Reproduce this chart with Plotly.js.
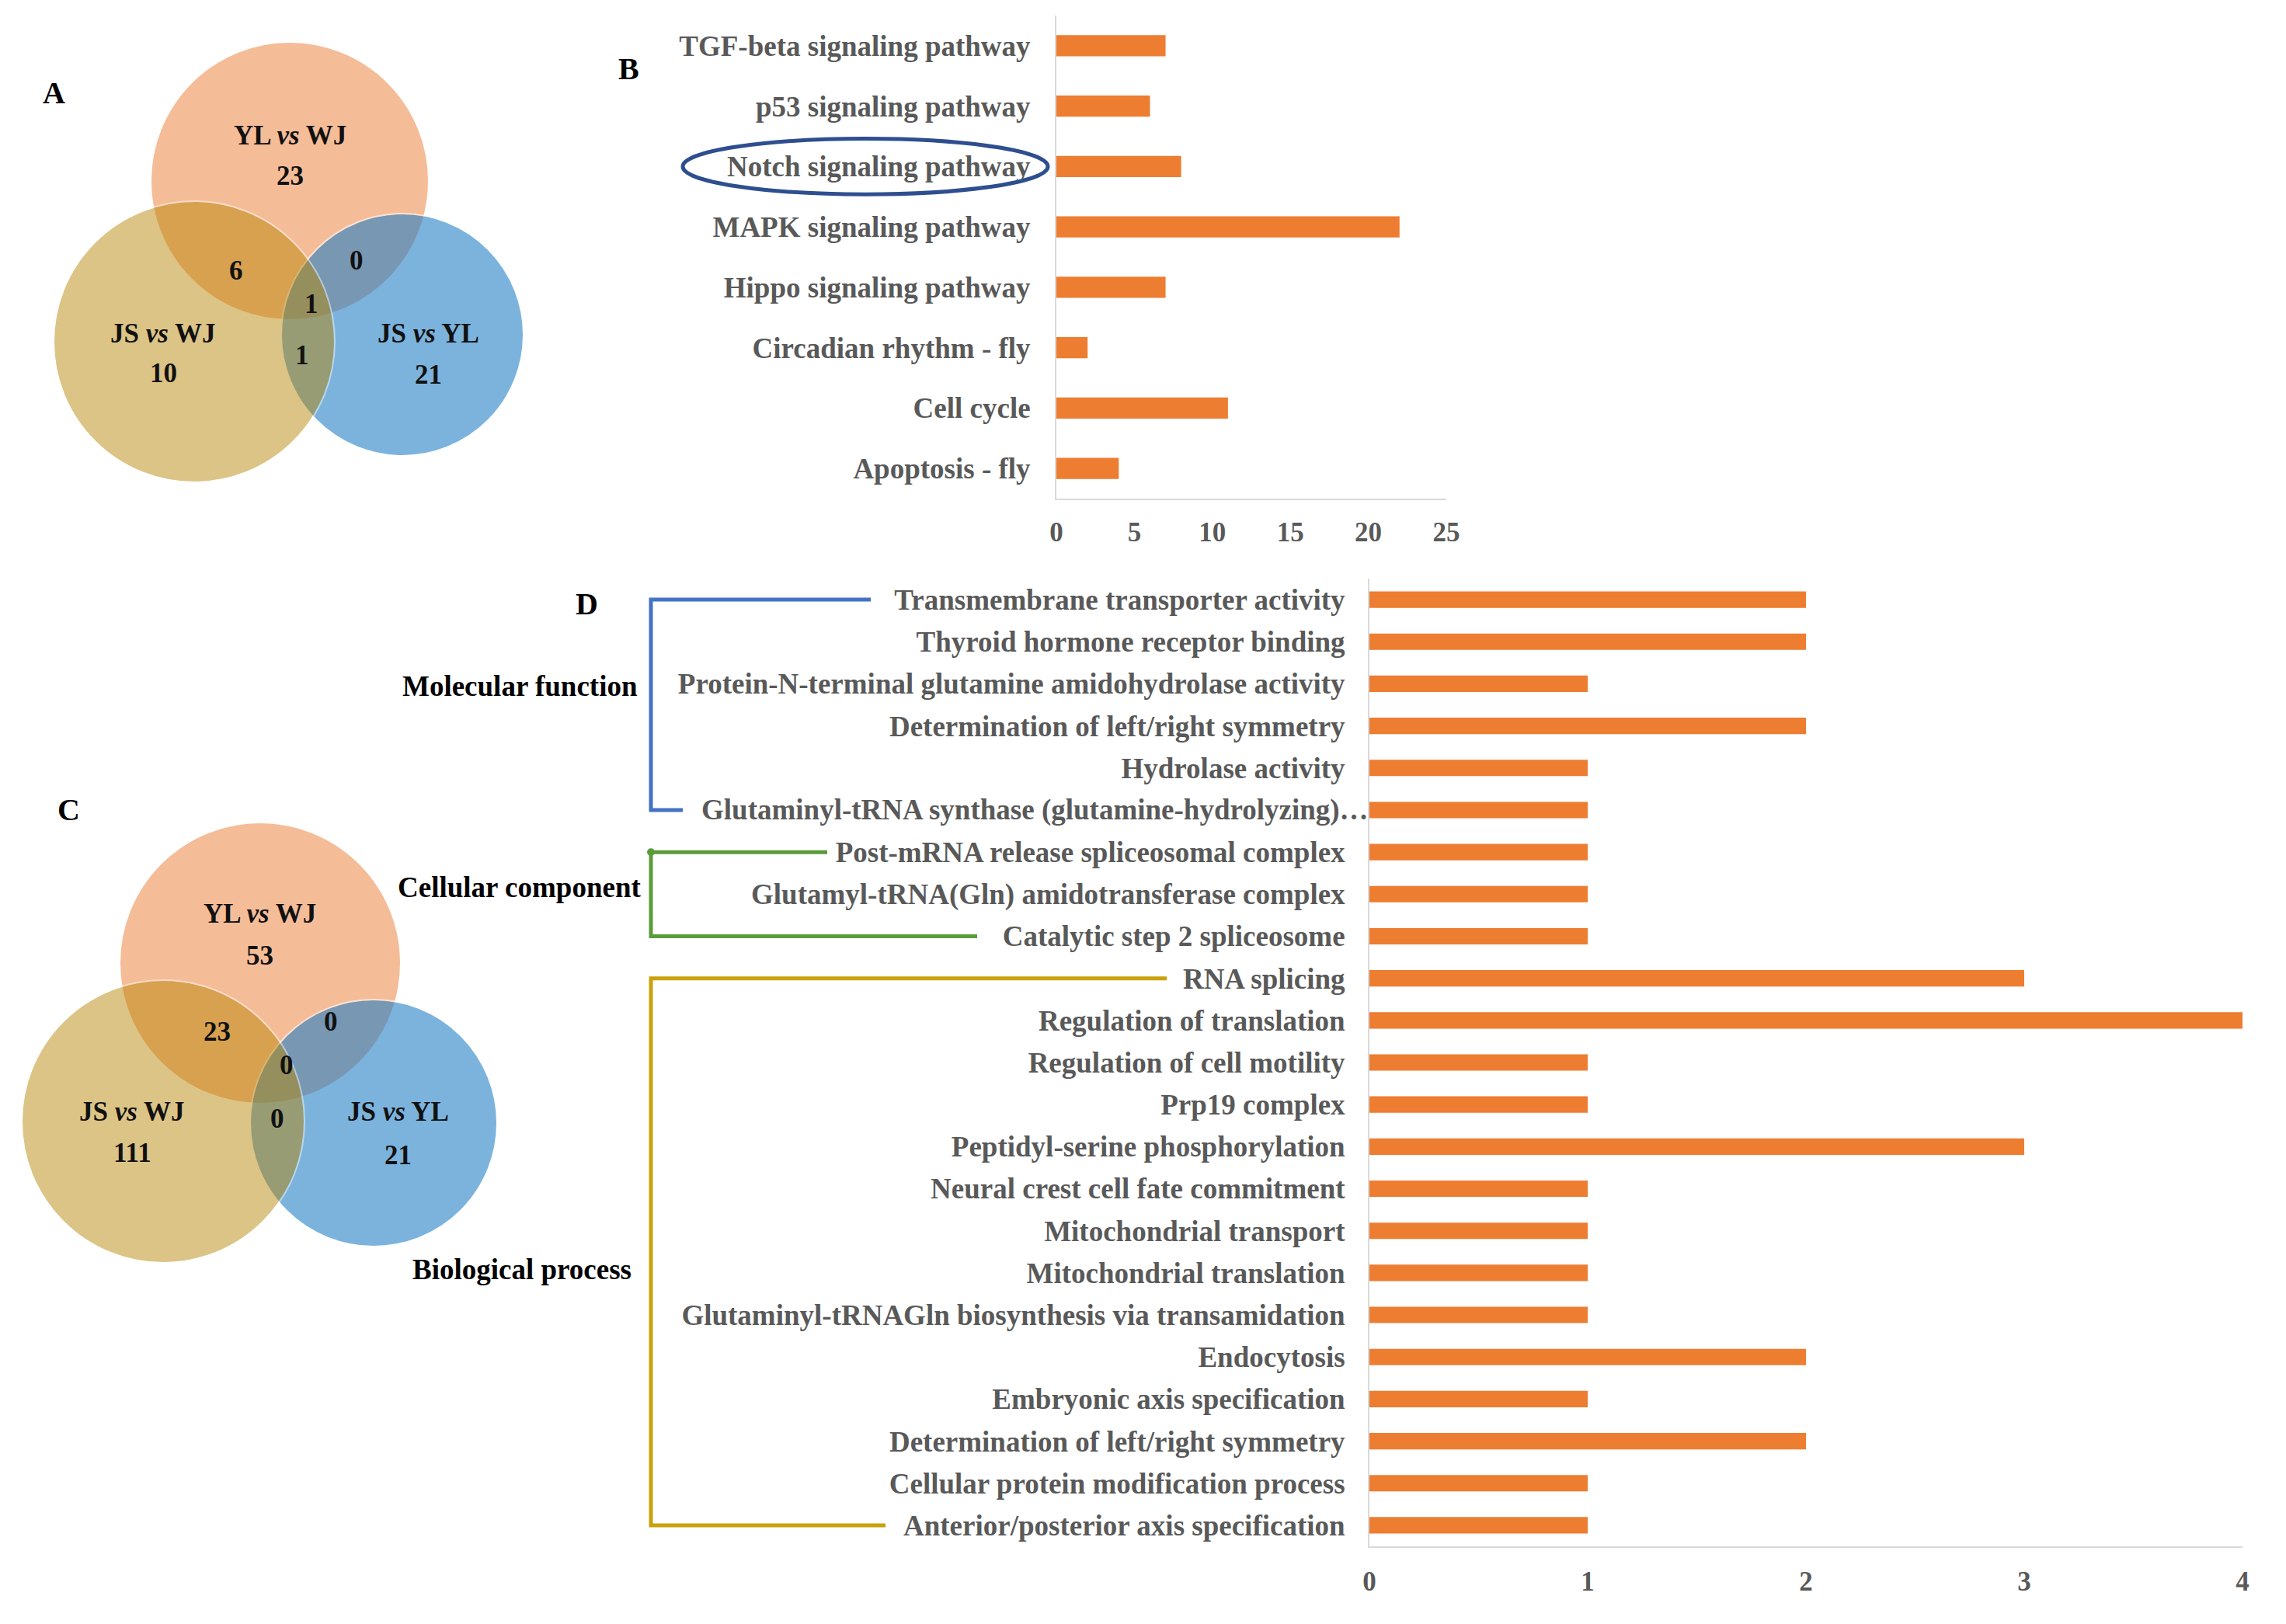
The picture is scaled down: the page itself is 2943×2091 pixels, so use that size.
<!DOCTYPE html>
<html>
<head>
<meta charset="utf-8">
<script src="https://cdn.plot.ly/plotly-3.0.1.min.js"></script>
<style>html,body{margin:0;padding:0;background:#fff;}</style>
</head>
<body>
<div id="chart" style="width:2943px;height:2091px;"></div>
<script>
// ---------------- data ----------------
const pathwayNames = [
  'TGF-beta signaling pathway',
  'p53 signaling pathway',
  'Notch signaling pathway',
  'MAPK signaling pathway',
  'Hippo signaling pathway',
  'Circadian rhythm - fly',
  'Cell cycle',
  'Apoptosis - fly'
];
const pathwayCounts = [7, 6, 8, 22, 7, 2, 11, 4];
const pathwayTicks = [0, 5, 10, 15, 20, 25];
const highlightedPathway = 'Notch signaling pathway';

const goTerms = [
  'Transmembrane transporter activity',
  'Thyroid hormone receptor binding',
  'Protein-N-terminal glutamine amidohydrolase activity',
  'Determination of left/right symmetry',
  'Hydrolase activity',
  'Glutaminyl-tRNA synthase (glutamine-hydrolyzing)…',
  'Post-mRNA release spliceosomal complex',
  'Glutamyl-tRNA(Gln) amidotransferase complex',
  'Catalytic step 2 spliceosome',
  'RNA splicing',
  'Regulation of translation',
  'Regulation of cell motility',
  'Prp19 complex',
  'Peptidyl-serine phosphorylation',
  'Neural crest cell fate commitment',
  'Mitochondrial transport',
  'Mitochondrial translation',
  'Glutaminyl-tRNAGln biosynthesis via transamidation',
  'Endocytosis',
  'Embryonic axis specification',
  'Determination of left/right symmetry',
  'Cellular protein modification process',
  'Anterior/posterior axis specification'
];
const goCounts = [2, 2, 1, 2, 1, 1, 1, 1, 1, 3, 4, 1, 1, 3, 1, 1, 1, 1, 2, 1, 2, 1, 1];
const goTicks = [0, 1, 2, 3, 4];
const goTruncatedTerm = 5;   // label that overflows to the axis (truncated with an ellipsis)
const goGroupNames = ['Molecular function', 'Cellular component', 'Biological process'];
const goGroupFirst = [0, 6, 9];
const goGroupLast = [5, 8, 22];

const vennSetNames = ['YL <i>vs</i> WJ', 'JS <i>vs</i> WJ', 'JS <i>vs</i> YL'];
// panel A: unique counts per set, pairwise overlaps (YL/WJ∩JS/WJ, YL/WJ∩JS/YL, JS/WJ∩JS/YL), all three
const vennAOnly = [23, 10, 21];
const vennAPairs = [6, 0, 1];
const vennAAll = 1;
// panel C
const vennCOnly = [53, 111, 21];
const vennCPairs = [23, 0, 0];
const vennCAll = 0;

// ---------------- layout / style ----------------
const W = 2943, H = 2091;
const FONT = "'Liberation Serif', 'Times New Roman', serif";
const X = v => v / W;
const Y = v => 1 - v / H;
const BAR = '#ED7D31';
const GRAY = '#595959';
const AXIS = '#D9D9D9';

const vennGeomA = {
  circles: [[373, 233, 179], [250, 440, 181], [518, 431, 156]],
  names: [[373, 174], [210, 429], [551, 429]],
  only: [[373, 227], [210, 481], [551, 483]],
  pairs: [[304, 349], [459, 336], [389, 458]],
  all: [401, 391]
};
const vennGeomC = {
  circles: [[335, 1240, 181], [210, 1444, 182], [481, 1446, 159]],
  names: [[334, 1176], [170, 1431], [512, 1431]],
  only: [[334, 1230], [170, 1484], [512, 1487]],
  pairs: [[279, 1328], [426, 1315], [357, 1440]],
  all: [369, 1371]
};
const vennFill = ['#F5BC98', '#B78400', '#1F7EC6'];
const vennOpacity = [1, 0.47, 0.58];
const vennDrawOrder = [0, 2, 1];

const shapes = [];
const annotations = [];

function addVenn(geom, only, pairs, all) {
  vennDrawOrder.forEach(i => {
    const [cx, cy, r] = geom.circles[i];
    shapes.push({
      type: 'circle', xref: 'paper', yref: 'paper', layer: 'below',
      x0: X(cx - r), x1: X(cx + r), y0: Y(cy + r), y1: Y(cy - r),
      fillcolor: vennFill[i], opacity: vennOpacity[i],
      line: {color: '#FFFFFF', width: 2}
    });
  });
  const txt = (t, p) => annotations.push({
    xref: 'paper', yref: 'paper', x: X(p[0]), y: Y(p[1]), text: t,
    showarrow: false, xanchor: 'center', yanchor: 'middle',
    font: {family: FONT, size: 35, color: '#111111', weight: 700}
  });
  vennSetNames.forEach((n, i) => txt(n, geom.names[i]));
  only.forEach((v, i) => txt(String(v), geom.only[i]));
  pairs.forEach((v, i) => txt(String(v), geom.pairs[i]));
  txt(String(all), geom.all);
}
addVenn(vennGeomA, vennAOnly, vennAPairs, vennAAll);
addVenn(vennGeomC, vennCOnly, vennCPairs, vennCAll);

// panel letters
[['A', 69, 120], ['B', 809, 88], ['C', 88, 1042], ['D', 755, 777]].forEach(([t, x, y]) => {
  annotations.push({xref: 'paper', yref: 'paper', x: X(x), y: Y(y), text: t, showarrow: false,
    xanchor: 'center', yanchor: 'middle', font: {family: FONT, size: 40, color: '#000', weight: 700}});
});

// ellipse around highlighted pathway label
const hi = pathwayNames.indexOf(highlightedPathway);
shapes.push({type: 'circle', xref: 'paper', yref: 'y', x0: X(879), x1: X(1349),
  y0: hi - 0.46, y1: hi + 0.46, line: {color: '#2E4E8F', width: 5}, fillcolor: 'rgba(0,0,0,0)'});

// GO group brackets
const bracketX = 838;
const bracketTopEnd = [1121, 1065, 1502];
const bracketBotEnd = [879, 1258, 1140];
const bracketColor = ['#4472C4', '#5B9B3A', '#C9A10A'];
const groupLabelPos = [[823, 883], [827, 1142], [815, 1634]];
goGroupNames.forEach((g, i) => {
  const s = goGroupFirst[i], e = goGroupLast[i];
  shapes.push({type: 'path', xref: 'paper', yref: 'y2',
    path: `M ${X(bracketTopEnd[i])},${s} L ${X(bracketX)},${s} L ${X(bracketX)},${e} L ${X(bracketBotEnd[i])},${e}`,
    line: {color: bracketColor[i], width: 5}});
  annotations.push({xref: 'paper', yref: 'paper', x: X(groupLabelPos[i][0]), y: Y(groupLabelPos[i][1]),
    text: g, showarrow: false, xanchor: 'right', yanchor: 'middle',
    font: {family: FONT, size: 37, color: '#000', weight: 700}});
});
// small end dot on the green bracket
shapes.push({type: 'circle', xref: 'paper', yref: 'y2',
  x0: X(bracketX - 5), x1: X(bracketX + 5), y0: goGroupFirst[1] - 0.09, y1: goGroupFirst[1] + 0.09,
  fillcolor: bracketColor[1], line: {width: 0}});

const goIdx = goTerms.map((_, i) => i);
const labFont = {family: FONT, size: 37, color: GRAY, weight: 700};
const tickFont = {family: FONT, size: 35, color: GRAY, weight: 700};

// the truncated term runs up to the axis line, drawn as its own label
annotations.push({xref: 'paper', yref: 'y2', x: X(1764), y: goTruncatedTerm,
  text: goTerms[goTruncatedTerm], showarrow: false, xanchor: 'right', yanchor: 'middle',
  font: labFont});
const goTickText = goTerms.map((t, i) => i === goTruncatedTerm ? '' : t);

const data = [
  {type: 'bar', orientation: 'h', x: pathwayCounts, y: pathwayNames, xaxis: 'x', yaxis: 'y',
   marker: {color: BAR}, width: 0.35, hoverinfo: 'x+y'},
  {type: 'bar', orientation: 'h', x: goCounts, y: goIdx, xaxis: 'x2', yaxis: 'y2',
   marker: {color: BAR}, width: 0.39, hoverinfo: 'x'}
];

const layout = {
  width: W, height: H,
  margin: {l: 0, r: 0, t: 0, b: 0},
  paper_bgcolor: '#FFFFFF', plot_bgcolor: 'rgba(0,0,0,0)',
  showlegend: false,
  xaxis: {domain: [X(1360), X(1862)], anchor: 'y', range: [0, 25], tickvals: pathwayTicks,
    showgrid: false, zeroline: false, showline: true, linecolor: AXIS, linewidth: 2,
    ticks: '', tickfont: tickFont, ticklabelstandoff: 11, fixedrange: true},
  yaxis: {domain: [Y(642), Y(20)], anchor: 'x', type: 'category', autorange: 'reversed',
    showgrid: false, zeroline: false, showline: true, linecolor: AXIS, linewidth: 2,
    ticks: '', tickfont: labFont, ticklabelstandoff: 24, fixedrange: true},
  xaxis2: {domain: [X(1763), X(2887)], anchor: 'y2', range: [0, 4], tickvals: goTicks,
    showgrid: false, zeroline: false, showline: true, linecolor: AXIS, linewidth: 2,
    ticks: '', tickfont: tickFont, ticklabelstandoff: 13, fixedrange: true},
  yaxis2: {domain: [Y(1991), Y(745)], anchor: 'x2', range: [goTerms.length - 0.5, -0.5],
    tickvals: goIdx, ticktext: goTickText,
    showgrid: false, zeroline: false, showline: true, linecolor: AXIS, linewidth: 2,
    ticks: '', tickfont: labFont, ticklabelstandoff: 22, fixedrange: true},
  shapes: shapes,
  annotations: annotations
};

Plotly.newPlot('chart', data, layout, {staticPlot: true, displayModeBar: false});
</script>
</body>
</html>
